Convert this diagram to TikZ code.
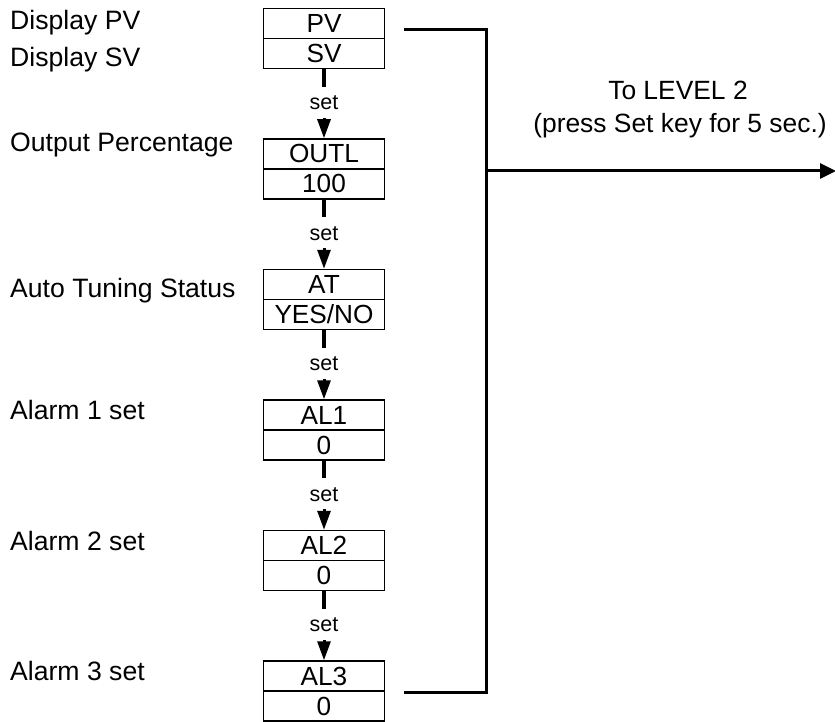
\documentclass[tikz,border=0pt]{standalone}
\usepackage{fontspec}
\setmainfont{Liberation Sans}
\usetikzlibrary{arrows.meta}
\begin{document}
\begin{tikzpicture}[x=1pt,y=-1pt,
  cell/.style={draw,line width=1.5pt,minimum width=121pt,minimum height=30pt,inner sep=0pt,
    text height=18pt,text depth=0pt,font=\fontsize{26.2}{30}\selectfont},
  lbl/.style={anchor=base west,inner sep=0pt,font=\fontsize{26.6}{30}\selectfont},
  toplbl/.style={anchor=base,inner sep=0pt,font=\fontsize{26.4}{30}\selectfont},
  setnode/.style={minimum height=31pt,inner sep=0pt,text height=15pt,text depth=0pt,
    font=\fontsize{21.5}{24}\selectfont},
  wire/.style={line width=3.2pt},
  tip/.style={line width=3pt,-{Triangle[length=19pt,width=13pt]}},
  bigtip/.style={line width=3pt,-{Triangle[length=16pt,width=15pt]}},
  bus/.style={line width=3pt,line join=miter}
]
\useasboundingbox (0,0) rectangle (835,722);
% boxes
\node[cell] (pv)   at (324,23.5) {PV};
\node[cell] (sv)   at (324,53.5) {SV};
\node[cell] (outl) at (324,154) {OUTL};
\node[cell] (v100) at (324,184) {100};
\node[cell] (at)   at (324,284.5) {AT};
\node[cell] (yn)   at (324,314.5) {YES/NO};
\node[cell] (al1)  at (324,415) {AL1};
\node[cell] (v1)   at (324,445) {0};
\node[cell] (al2)  at (324,545.5) {AL2};
\node[cell] (v2)   at (324,575.5) {0};
\node[cell] (al3)  at (324,676) {AL3};
\node[cell] (v3)   at (324,706) {0};
% labels
\node[lbl] (lpv)  at (10,30)  {Display PV};
\node[lbl] (lsv)  at (10,67)  {Display SV};
\node[lbl] (lout) at (10,152) {Output Percentage};
\node[lbl] (lat)  at (10,297) {Auto Tuning Status};
\node[lbl] (la1)  at (10,419) {Alarm 1 set};
\node[lbl] (la2)  at (10,550) {Alarm 2 set};
\node[lbl] (la3)  at (10,680) {Alarm 3 set};
% set connectors
\foreach \a/\b/\n in {sv/outl/s1, v100/at/s2, yn/al1/s3, v1/al2/s4, v2/al3/s5}{
  \path (\a.south) -- node[setnode,yshift=1.5pt] (\n) {set} (\b.north);
  \draw[wire] (\a.south) -- (\n.north);
  \draw[tip] (\n.south) -- (\b.north);
}
% right bus
\coordinate (pvout) at (404,29.5);
\coordinate (busT) at (486,29.5);
\coordinate (busM) at (486,171);
\coordinate (busB) at (486,692);
\coordinate (al3out) at (404,692);
\coordinate (lvl2) at (836,171);
\draw[bus] (pvout) -- (busT) -- (busB) -- (al3out);
\draw[bigtip] (busM) -- (lvl2);
\node[toplbl] (t1) at (678,100) {To LEVEL 2};
\node[toplbl] (t2) at (680,133) {(press Set key for 5 sec.)};
\end{tikzpicture}
\end{document}
